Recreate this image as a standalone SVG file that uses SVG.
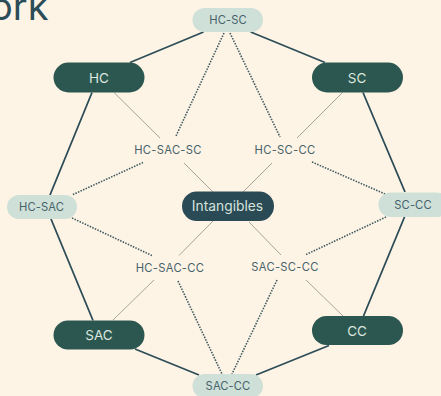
<svg xmlns="http://www.w3.org/2000/svg" width="441" height="396" viewBox="0 0 441 396">
<style>
text{font-family:"Inter","Liberation Sans",sans-serif;text-anchor:middle;dominant-baseline:central}
.main rect{fill:#2b5750}
.main text{fill:#dbe7df;font-size:13.5px}
.sec rect{fill:#cfe0d8}
.sec text{fill:#46626a;font-size:11.2px;letter-spacing:.1px}
.plain text{fill:#46626a;font-size:11.2px;letter-spacing:.3px}
.hub rect{fill:#2a4a55}
.hub text{fill:#d5e2dc;font-size:13.800px}
.solid{stroke:#2c4d58;stroke-width:1.800;fill:none}
.thin{stroke:#a3a69f;stroke-width:1;fill:none}
.dot{stroke:#3f5a60;stroke-width:1.600;stroke-dasharray:1.500 1.300;fill:none}
</style>
<rect width="441" height="396" fill="#fef4e5"/>
<text id="title" x="48.500" y="6" style="text-anchor:end;font-size:38px;fill:#2c4d58">ork</text>
<g id="connectors">
<path class="solid" d="M130 62.500L203.500 32M250.700 32L325 62.500M92 92.500L50 195M51 219L93 320.500M135 349L199 375M329 345.500L256 375M363 92.500L405 192M404.500 217L363.500 316"/>
<path class="thin" d="M114 92.500L160 138M184 163L213 192M342.500 92.500L297 138M272 163L243 192M213 221L179 255.500M249 222L281 255M154 280L113 320M306 280L343 316"/>
<path class="dot" d="M224 33L175.500 137M230 33L280 137M143 162.500L72 195M312 162L385 194M72 218L153 256M386 217L305 255M178 281L222 374M277 280L232 374"/>
</g>
<g id="HC" class="main"><rect x="53.500" y="62.500" width="91" height="30" rx="15"/><text x="99" y="77.500">HC</text></g>
<g id="SC" class="main"><rect x="312" y="62.500" width="91" height="30" rx="15"/><text x="357" y="77.500">SC</text></g>
<g id="SAC" class="main"><rect x="53.500" y="320.500" width="91" height="29" rx="14.500"/><text x="99" y="335">SAC</text></g>
<g id="CC" class="main"><rect x="312" y="316" width="91" height="29" rx="14.500"/><text x="357" y="330.500">CC</text></g>
<g id="HC-SC" class="sec"><rect x="192.500" y="8" width="70.500" height="24" rx="12"/><text x="228" y="20">HC-SC</text></g>
<g id="HC-SAC" class="sec"><rect x="7" y="195" width="70" height="24" rx="12"/><text x="41.500" y="207">HC-SAC</text></g>
<g id="SC-CC" class="sec"><rect x="378.500" y="192.500" width="70" height="24.500" rx="12"/><text x="413" y="204.500">SC-CC</text></g>
<g id="SAC-CC" class="sec"><rect x="192.500" y="374" width="70.500" height="24" rx="12"/><text x="228" y="386">SAC-CC</text></g>
<g id="Intangibles" class="hub"><rect x="182" y="191.500" width="92" height="29.500" rx="14.750"/><text x="227.500" y="206">Intangibles</text></g>
<g id="HC-SAC-SC" class="plain"><text x="168" y="150">HC-SAC-SC</text></g>
<g id="HC-SC-CC" class="plain"><text x="285" y="150">HC-SC-CC</text></g>
<g id="HC-SAC-CC" class="plain"><text x="170" y="268">HC-SAC-CC</text></g>
<g id="SAC-SC-CC" class="plain"><text x="285" y="267">SAC-SC-CC</text></g>
</svg>
